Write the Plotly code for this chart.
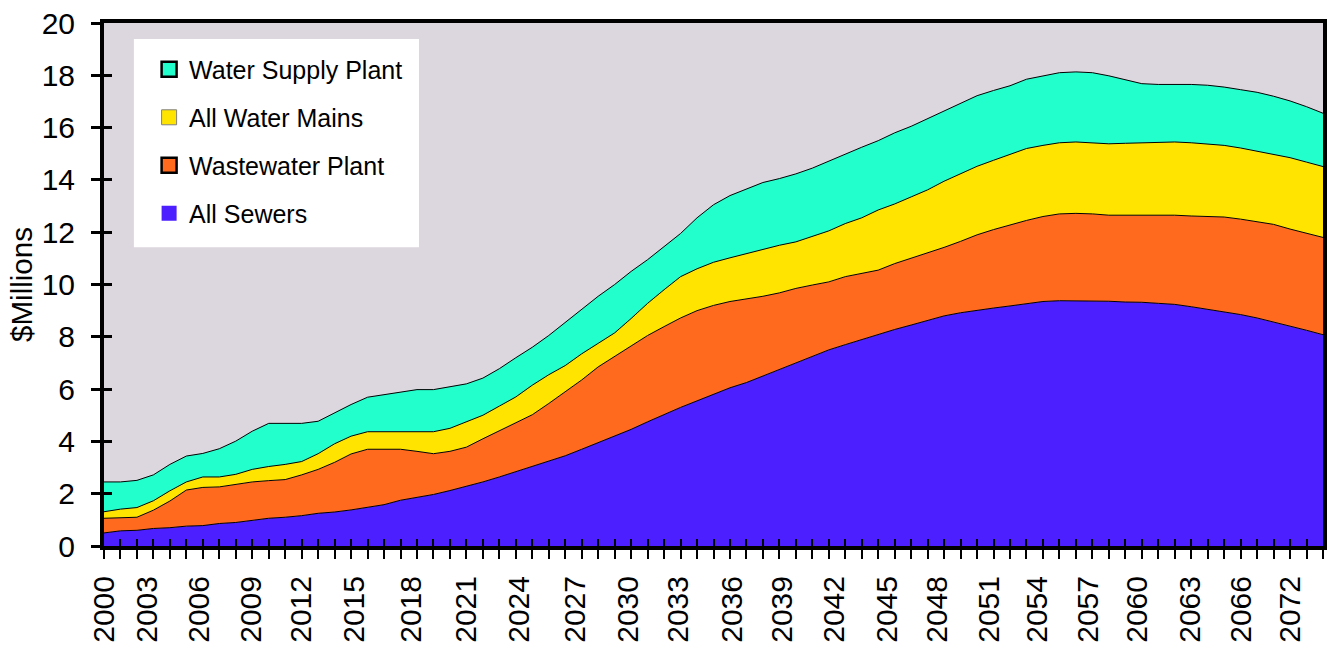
import plotly.graph_objects as go

years = list(range(2000, 2075))

all_sewers = [
    0.50, 0.58, 0.60, 0.67, 0.70, 0.76, 0.78, 0.86, 0.90, 0.98,
    1.06, 1.10, 1.16, 1.25, 1.30, 1.38, 1.48, 1.58, 1.75, 1.85,
    1.97, 2.12, 2.28, 2.45, 2.64, 2.85, 3.06, 3.25, 3.45, 3.70,
    3.95, 4.20, 4.46, 4.75, 5.03, 5.30, 5.55, 5.80, 6.05, 6.25,
    6.50, 6.75, 7.00, 7.25, 7.50, 7.70, 7.90, 8.08, 8.28, 8.45,
    8.62, 8.80, 8.92, 9.02, 9.10, 9.18, 9.27, 9.35, 9.38, 9.38,
    9.38, 9.36, 9.33, 9.32, 9.28, 9.24, 9.15, 9.05, 8.95, 8.85,
    8.72, 8.57, 8.42, 8.25, 8.08,
]

wastewater_plant = [
    0.56, 0.50, 0.50, 0.70, 1.02, 1.38, 1.46, 1.40, 1.45, 1.47,
    1.44, 1.44, 1.56, 1.68, 1.90, 2.14, 2.22, 2.12, 1.95, 1.77,
    1.56, 1.50, 1.50, 1.65, 1.76, 1.87, 1.96, 2.20, 2.45, 2.65,
    2.90, 3.05, 3.19, 3.30, 3.36, 3.42, 3.45, 3.40, 3.30, 3.20,
    3.05, 2.93, 2.85, 2.73, 2.60, 2.60, 2.52, 2.47, 2.52, 2.55,
    2.58, 2.62, 2.73, 2.88, 3.00, 3.10, 3.18, 3.25, 3.32, 3.34,
    3.32, 3.29, 3.32, 3.33, 3.37, 3.41, 3.47, 3.55, 3.63, 3.65,
    3.68, 3.73, 3.70, 3.72, 3.72,
]

all_water_mains = [
    0.25, 0.33, 0.37, 0.36, 0.39, 0.31, 0.40, 0.38, 0.39, 0.48,
    0.54, 0.58, 0.51, 0.60, 0.71, 0.68, 0.67, 0.67, 0.67, 0.75,
    0.84, 0.88, 0.97, 0.90, 0.95, 0.98, 1.13, 1.10, 1.00, 1.00,
    0.90, 0.90, 1.05, 1.23, 1.41, 1.58, 1.60, 1.65, 1.67, 1.73,
    1.80, 1.82, 1.78, 1.87, 1.95, 2.03, 2.13, 2.30, 2.28, 2.35,
    2.42, 2.53, 2.60, 2.62, 2.65, 2.70, 2.75, 2.72, 2.72, 2.73,
    2.72, 2.73, 2.75, 2.77, 2.80, 2.80, 2.80, 2.78, 2.74, 2.72,
    2.70, 2.68, 2.73, 2.71, 2.71,
]

water_supply_plant = [
    1.14, 1.04, 1.04, 0.99, 1.01, 0.99, 0.90, 1.08, 1.27, 1.46,
    1.65, 1.57, 1.46, 1.24, 1.18, 1.21, 1.32, 1.42, 1.51, 1.61,
    1.61, 1.60, 1.45, 1.42, 1.43, 1.50, 1.45, 1.50, 1.65, 1.70,
    1.80, 1.85, 1.80, 1.67, 1.65, 1.65, 1.95, 2.20, 2.38, 2.47,
    2.55, 2.55, 2.60, 2.60, 2.67, 2.67, 2.70, 2.65, 2.72, 2.70,
    2.73, 2.70, 2.70, 2.70, 2.67, 2.62, 2.65, 2.66, 2.68, 2.68,
    2.68, 2.60, 2.42, 2.26, 2.20, 2.20, 2.23, 2.24, 2.23, 2.23,
    2.25, 2.22, 2.17, 2.12, 2.04,
]

# tick labels and where they sit along the x scale
tick_text = ["2000", "2003", "2006", "2009", "2012", "2015", "2018", "2021",
             "2024", "2027", "2030", "2033", "2036", "2039", "2042", "2045",
             "2048", "2051", "2054", "2057", "2060", "2063", "2066", "2072"]
tick_pos = [2000.0, 2002.6, 2005.8, 2008.95, 2011.98, 2015.18, 2018.63, 2021.96,
            2025.23, 2028.62, 2031.82, 2034.85, 2038.11, 2041.2, 2044.34, 2047.55,
            2050.57, 2053.72, 2056.68, 2059.77, 2062.73, 2065.94, 2069.03, 2071.99]

series = [
    ("All Sewers", all_sewers, "#4b1fff"),
    ("Wastewater Plant", wastewater_plant, "#ff6a1f"),
    ("All Water Mains", all_water_mains, "#ffe400"),
    ("Water Supply Plant", water_supply_plant, "#22ffcc"),
]
legend_border = {"Water Supply Plant": ("black", 2.5),
                 "All Water Mains": ("#808080", 1),
                 "Wastewater Plant": ("black", 2.5),
                 "All Sewers": ("#4b1fff", 0)}

FONT = "Arial, Liberation Sans, sans-serif"

fig = go.Figure()
for name, vals, col in series:
    fig.add_trace(go.Scatter(
        x=years, y=vals, name=name, stackgroup="one", mode="lines",
        line=dict(color="black", width=1), fillcolor=col, showlegend=False,
    ))

for name, vals, col in reversed(series):
    lc, lw = legend_border[name]
    fig.add_trace(go.Scatter(
        x=[None], y=[None], name=name, mode="markers", legendgroup=name,
        marker=dict(symbol="square", size=15, color=col, line=dict(color=lc, width=lw)),
    ))

# overlay axes used only for the inward half of the tick marks
fig.add_trace(go.Scatter(x=[None], y=[None], xaxis="x2", yaxis="y", showlegend=False, hoverinfo="skip"))
fig.add_trace(go.Scatter(x=[None], y=[None], xaxis="x", yaxis="y2", showlegend=False, hoverinfo="skip"))

fig.update_layout(
    width=1331, height=655,
    margin=dict(l=104, r=4, t=23, b=109),
    paper_bgcolor="white",
    plot_bgcolor="#dcd6de",
    font=dict(family=FONT, color="black"),
    showlegend=True,
    legend=dict(
        x=0.037, y=0.955, xanchor="left", yanchor="top",
        bgcolor="rgba(0,0,0,0)", borderwidth=0,
        font=dict(size=25, family=FONT, color="black"),
        traceorder="grouped", tracegroupgap=12.5,
    ),
    xaxis=dict(
        range=[2000, 2074], showgrid=False, zeroline=False,
        showline=True, linecolor="black", linewidth=4, mirror=True,
        tickmode="array", tickvals=tick_pos, ticktext=tick_text,
        ticks="", tickangle=-90, ticklabelstandoff=14,
        tickfont=dict(size=30, family=FONT, color="black"),
        minor=dict(tickmode="linear", tick0=2000, dtick=1, ticks="outside",
                   ticklen=9, tickwidth=2, tickcolor="black", showgrid=False),
    ),
    xaxis2=dict(
        overlaying="x", matches="x", anchor="y", side="bottom",
        range=[2000, 2074], showgrid=False, zeroline=False, showline=False,
        tickmode="linear", tick0=2000, dtick=1, ticks="inside",
        ticklen=7, tickwidth=2, tickcolor="black", showticklabels=False,
    ),
    yaxis=dict(
        range=[0, 20], dtick=2, tick0=0, showgrid=False, zeroline=False,
        showline=True, linecolor="black", linewidth=4, mirror=True,
        ticks="outside", ticklen=9, tickwidth=2.5, tickcolor="black",
        ticklabelstandoff=10,
        tickfont=dict(size=30, family=FONT, color="black"),
        title=dict(text="$Millions", font=dict(size=29.5, family=FONT, color="black"), standoff=1),
    ),
    yaxis2=dict(
        overlaying="y", matches="y", anchor="x", side="left",
        range=[0, 20], dtick=2, tick0=0, showgrid=False, zeroline=False, showline=False,
        ticks="inside", ticklen=8, tickwidth=2.5, tickcolor="black", showticklabels=False,
    ),
    shapes=[dict(type="rect", xref="paper", yref="paper",
                 x0=0.0245, x1=0.2584, y0=0.5714, y1=0.9695,
                 fillcolor="white", line=dict(width=0), layer="below")],
)

fig.write_html("out.html",
               config={"displayModeBar": False},
               post_script="document.body.style.margin='0';document.body.style.padding='0';")
